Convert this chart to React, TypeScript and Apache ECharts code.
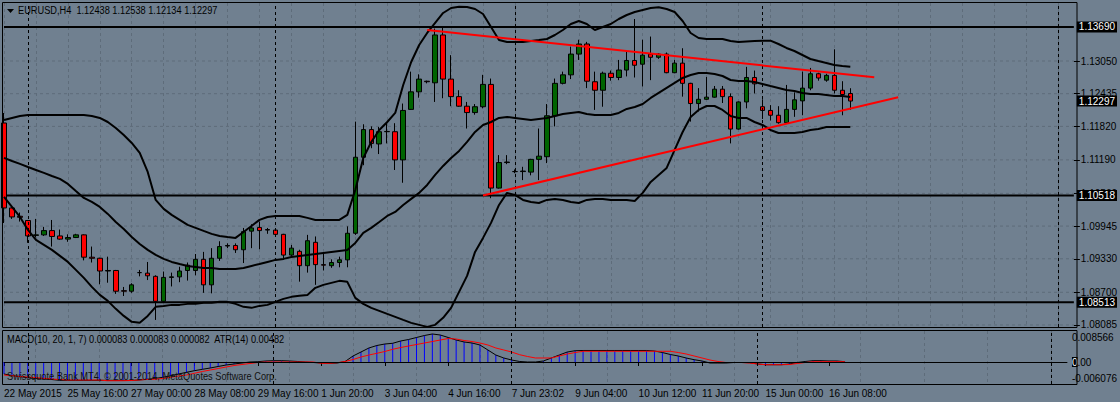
import React, { useEffect, useRef } from "react";
import * as echarts from "echarts";

const FONT = "Liberation Sans";
const BG = "#708090";
const GRID = "#5e6c7a";

// ---- data (EURUSD H4) ----
const opens = [1.11884,1.10286,1.1013,1.1005,1.0977,1.0978,1.0986,1.0976,1.097,1.0973,1.0978,1.0936,1.0934,1.091,1.0911,1.0873,1.0872,1.0907,1.0906,1.09,1.0853,1.0898,1.0899,1.0911,1.0911,1.0932,1.0884,1.0934,1.0957,1.0958,1.095,1.0985,1.0992,1.0988,1.0987,1.0979,1.094,1.0947,1.092,1.0964,1.0922,1.092,1.0926,1.0931,1.0981,1.1124,1.1176,1.1149,1.1172,1.1172,1.1119,1.1214,1.1247,1.1267,1.1264,1.1354,1.1271,1.1238,1.122,1.1208,1.1219,1.1261,1.1066,1.1114,1.1097,1.1097,1.1096,1.112,1.1125,1.1202,1.1263,1.1279,1.1318,1.1337,1.1266,1.125,1.1282,1.1274,1.1288,1.1306,1.1299,1.1318,1.1312,1.1318,1.1283,1.1301,1.1263,1.1225,1.1233,1.1237,1.1252,1.1238,1.1177,1.1228,1.1274,1.1219,1.1212,1.1203,1.1189,1.1214,1.123,1.1254,1.1281,1.1269,1.1278,1.125,1.12438];
const highs = [1.12072,1.103,1.102,1.1006,1.1008,1.0993,1.1006,1.0988,1.0979,1.098,1.0979,1.0956,1.0935,1.0937,1.0912,1.088,1.0887,1.0912,1.0927,1.0902,1.0909,1.0907,1.0918,1.0926,1.0942,1.0946,1.0953,1.0966,1.0962,1.0962,1.0991,1.0998,1.1003,1.0991,1.0988,1.098,1.0959,1.095,1.0978,1.0975,1.0945,1.0932,1.0937,1.0994,1.1191,1.1186,1.1182,1.1181,1.1188,1.1188,1.1225,1.1285,1.128,1.1268,1.1366,1.1367,1.1316,1.125,1.1228,1.1224,1.1279,1.1272,1.1128,1.1128,1.1101,1.1106,1.1121,1.1178,1.1224,1.1272,1.1285,1.1332,1.1345,1.1341,1.1285,1.1285,1.1287,1.1307,1.1323,1.1384,1.1345,1.1351,1.132,1.1321,1.1307,1.1329,1.1264,1.1254,1.1275,1.1258,1.1258,1.1244,1.1229,1.1294,1.1287,1.1233,1.1222,1.122,1.126,1.1246,1.1285,1.1292,1.1283,1.1281,1.1327,1.1267,1.12538];
const lows = [1.10003,1.1008,1.1003,1.0963,1.0973,1.0976,1.0956,1.0969,1.0965,1.0972,1.093,1.0926,1.0885,1.0888,1.0867,1.0863,1.0869,1.09,1.0893,1.0818,1.0852,1.0881,1.0889,1.0892,1.0902,1.0869,1.0868,1.0929,1.0953,1.0944,1.0925,1.0953,1.0951,1.098,1.0978,1.0931,1.0936,1.089,1.0907,1.0884,1.0911,1.0916,1.0917,1.0917,1.0978,1.1109,1.1141,1.113,1.115,1.11,1.1076,1.1213,1.1236,1.1263,1.1228,1.1235,1.122,1.1219,1.1178,1.1204,1.1216,1.1047,1.1065,1.1111,1.1094,1.1081,1.109,1.1081,1.1113,1.1182,1.1261,1.1271,1.1307,1.1254,1.1213,1.1219,1.1268,1.1269,1.1276,1.1274,1.1257,1.1269,1.1309,1.1282,1.1282,1.1238,1.1191,1.121,1.1232,1.1236,1.1226,1.115,1.1176,1.1216,1.1244,1.1196,1.1193,1.1187,1.1188,1.12,1.1203,1.125,1.1268,1.1266,1.1244,1.1203,1.12134];
const closes = [1.10286,1.10117,1.1011,1.0976,1.0978,1.0986,1.0975,1.097,1.0973,1.0978,1.0936,1.0934,1.091,1.0911,1.0872,1.0872,1.0884,1.0907,1.0901,1.0853,1.0898,1.0899,1.091,1.0921,1.0932,1.0884,1.0934,1.0956,1.0958,1.095,1.0984,1.0991,1.0986,1.0987,1.0979,1.094,1.0953,1.092,1.0967,1.0922,1.0921,1.0926,1.0931,1.0981,1.1124,1.1176,1.115,1.1172,1.11725,1.1119,1.1212,1.1247,1.1271,1.1266,1.1354,1.1271,1.1238,1.122,1.1208,1.1219,1.1261,1.1066,1.1114,1.1115,1.1097,1.1098,1.112,1.1126,1.1202,1.1263,1.1279,1.1318,1.1337,1.1267,1.125,1.1282,1.1274,1.1288,1.1306,1.1297,1.1316,1.1312,1.1318,1.1283,1.1301,1.1263,1.1225,1.1233,1.1237,1.1252,1.1238,1.1177,1.1228,1.1274,1.1262,1.1212,1.1203,1.1189,1.1214,1.1232,1.1254,1.1281,1.1273,1.1278,1.125,1.1242,1.12297];

const bbUpper = [1.11941,1.11979,1.12016,1.12035,1.12035,1.12035,1.12035,1.12035,1.12035,1.12035,1.12035,1.12016,1.11979,1.11903,1.11791,1.11659,1.11509,1.11321,1.10963,1.10437,1.10268,1.10155,1.10061,1.09967,1.09911,1.09854,1.09798,1.0976,1.09741,1.09723,1.09835,1.09948,1.10061,1.10117,1.10136,1.10136,1.10136,1.10136,1.10099,1.10061,1.10061,1.10061,1.10061,1.10155,1.10625,1.11227,1.11526,1.11753,1.11903,1.12073,1.12599,1.13031,1.13351,1.13577,1.13765,1.13953,1.14047,1.14071,1.14065,1.14028,1.13934,1.13689,1.13445,1.13407,1.13407,1.13407,1.13426,1.13445,1.13464,1.13539,1.13633,1.13746,1.13802,1.13746,1.13633,1.13689,1.13746,1.1384,1.13915,1.13971,1.14009,1.14047,1.1406,1.14028,1.13971,1.13802,1.13577,1.13483,1.13464,1.13464,1.13464,1.13426,1.13407,1.13417,1.13426,1.13432,1.13432,1.1337,1.13295,1.13238,1.13163,1.13088,1.1305,1.13013,1.12975,1.12956,1.12943];
const bbMiddle = [1.11227,1.1117,1.11114,1.11057,1.11001,1.10945,1.10888,1.10832,1.10738,1.10606,1.10475,1.10399,1.10305,1.10174,1.10023,1.09891,1.09741,1.09609,1.09497,1.09403,1.09328,1.09271,1.09233,1.09196,1.09177,1.09158,1.09158,1.09139,1.09139,1.09139,1.09158,1.09196,1.09233,1.09271,1.09309,1.09328,1.09365,1.09384,1.09403,1.09421,1.0944,1.09459,1.09478,1.09497,1.09629,1.09817,1.09911,1.10023,1.10136,1.10211,1.10343,1.10456,1.10569,1.10719,1.10907,1.11076,1.11227,1.11359,1.11528,1.11716,1.11847,1.11903,1.11979,1.11997,1.11979,1.1196,1.11941,1.1196,1.11979,1.12016,1.12054,1.12073,1.12092,1.12054,1.12035,1.12035,1.12035,1.12073,1.12148,1.12185,1.12242,1.12355,1.12449,1.12543,1.12637,1.12731,1.12787,1.12825,1.12825,1.12806,1.12768,1.12693,1.12674,1.12674,1.12655,1.12618,1.1258,1.12543,1.12505,1.12486,1.12449,1.1243,1.1243,1.12411,1.12392,1.12392,1.12373];
const bbLower = [1.10493,1.10305,1.10117,1.09873,1.09685,1.09591,1.09497,1.09384,1.09271,1.09121,1.08971,1.08802,1.08651,1.08538,1.08388,1.08256,1.08144,1.08125,1.08256,1.08426,1.08444,1.08463,1.08463,1.08482,1.08482,1.08501,1.08501,1.0852,1.0852,1.08482,1.08426,1.08407,1.08444,1.08463,1.0852,1.08576,1.08614,1.08633,1.08651,1.08783,1.08839,1.08877,1.08915,1.08896,1.08595,1.08482,1.08407,1.08351,1.08294,1.08238,1.08181,1.08125,1.08087,1.08049,1.08087,1.08219,1.08407,1.08708,1.09008,1.09459,1.09723,1.10005,1.10343,1.10569,1.10531,1.10437,1.10399,1.1038,1.10437,1.10456,1.10437,1.10399,1.1038,1.10437,1.10456,1.10456,1.10437,1.10437,1.10437,1.10418,1.10569,1.10775,1.10907,1.11039,1.11377,1.11715,1.11997,1.12129,1.12204,1.12204,1.12129,1.12016,1.11979,1.11979,1.11903,1.11847,1.11753,1.11697,1.11697,1.11697,1.11715,1.11753,1.11772,1.11809,1.11809,1.11809,1.11809];

const macdMain = [-0.00332,-0.00373,-0.00406,-0.00434,-0.00456,-0.0047,-0.00483,-0.00506,-0.00506,-0.00506,-0.00506,-0.00506,-0.00506,-0.00506,-0.00506,-0.00506,-0.00511,-0.00497,-0.00478,-0.00456,-0.00423,-0.00381,-0.00332,-0.00285,-0.0024,-0.00202,-0.00166,-0.00124,-0.00083,-0.00055,-0.00028,0,0.00008,0.00028,0.00036,0.00036,0.00028,0.00014,0,-0.00014,-0.00028,-0.00036,-0.00028,0.00014,0.00166,0.00276,0.00387,0.00456,0.00497,0.00517,0.0058,0.00622,0.00677,0.00732,0.00774,0.00746,0.00677,0.00608,0.00553,0.00525,0.0047,0.00332,0.00193,0.00111,0.00055,0.00014,0,0,0.00028,0.00111,0.00193,0.00276,0.00312,0.00318,0.00318,0.00318,0.00318,0.00318,0.00318,0.00318,0.00318,0.00318,0.00304,0.00262,0.00207,0.00166,0.00111,0.00064,0.00028,-0.00028,-0.00028,-0.00028,-0.00014,-0.00014,-0.00019,-0.00055,-0.00075,-0.00075,-0.00075,-0.00055,-0.00014,0.00014,0.00036,0.00036,0.00028,0.00028,0.000083];
const macdSignal = [-0.00359,-0.00381,-0.004,-0.00414,-0.00431,-0.0045,-0.0047,-0.00483,-0.00497,-0.00497,-0.00497,-0.00497,-0.00497,-0.00517,-0.00517,-0.00517,-0.00511,-0.00497,-0.00483,-0.00478,-0.00456,-0.00423,-0.00387,-0.00359,-0.00312,-0.00262,-0.00221,-0.0018,-0.00138,-0.00097,-0.00069,-0.00041,-0.00014,0,0,0,0,0,0,0,-0.00036,-0.00036,-0.00019,0.00014,0.00069,0.00138,0.00193,0.0024,0.0029,0.00351,0.004,0.00442,0.00483,0.00525,0.00566,0.00608,0.00649,0.00635,0.00594,0.00566,0.00525,0.0047,0.00387,0.00332,0.00276,0.00202,0.00152,0.00111,0.00111,0.00111,0.00166,0.00221,0.00262,0.00296,0.00296,0.00296,0.00296,0.00296,0.00296,0.00296,0.00296,0.00296,0.00296,0.00296,0.00296,0.00262,0.00221,0.00166,0.00111,0.00055,0.00014,-0.00014,-0.00014,-0.00014,-0.00028,-0.00055,-0.00075,-0.00075,-0.00075,-0.0007,-0.00041,-0.00014,0.00008,0.00008,0.00008,0.00008,0.000082];

const tickLabels = ["22 May 2015","25 May 16:00","27 May 00:00","28 May 08:00","29 May 16:00","1 Jun 20:00","3 Jun 04:00","4 Jun 16:00","7 Jun 23:02","9 Jun 04:00","10 Jun 12:00","11 Jun 20:00","15 Jun 00:00","16 Jun 08:00"];
const priceTicks = [1.1305,1.12435,1.1182,1.1119,1.1056,1.09945,1.0933,1.087,1.08085];
const levels = [1.1369,1.10518,1.08513];
const lastPrice = 1.12297;
const weekStarts = [3,34,64,95,132];
const upperTrend = [[53,1.13633],[109,1.12744]];
const lowerTrend = [[60,1.1052],[112,1.12368]];
const macdLabels = [["0.008566",0.00682],["0.00",0],["-0.006076",-0.0045]];
const TITLE = "EURUSD,H4  1.12438 1.12538 1.12134 1.12297";
const MACD_TITLE = "MACD(10, 20, 1, 7) 0.000083 0.000083 0.000082  ATR(14) 0.00482";
const FOOTER = "Swissquote Bank MT4, \u00a9 2001-2014, MetaQuotes Software Corp.";

const SLOTS = 135;

export default function App() {
  const ref = useRef<HTMLDivElement>(null);
  useEffect(() => {
    if (!ref.current) return;
    const chart = echarts.init(ref.current, null, { renderer: "svg" });
    const cats = Array.from({ length: SLOTS }, (_, i) => String(i));
    const candles = opens.map((o, i) => [o, closes[i], lows[i], highs[i]]);
    const ends = [0, SLOTS - 1];
    const hLine = (v: number, lineStyle: any, endLabel?: any) => ({
      type: "line", xAxisIndex: 0, yAxisIndex: 0, data: ends.map((x) => [x, v]),
      symbol: "none", silent: true, clip: false, lineStyle, z: 2,
      endLabel: endLabel
        ? { show: true, formatter: v.toFixed(5), backgroundColor: "#000", color: "#fff", fontFamily: FONT, fontSize: 10, padding: [1, 2, 0, 2], distance: 3 }
        : { show: false },
    });
    const weekLines = weekStarts.map((i) => ({
      xAxis: i,
      lineStyle: { color: "#000", type: [3, 3], width: 1 },
      label: { show: false },
    }));
    const txt = (x: number, y: number, text: string, fill = "#000") => ({
      type: "text", x, y, scaleX: 0.84, z: 100,
      style: { text, fill, font: `11px "${FONT}"` },
    });
    const option: any = {
      animation: false,
      backgroundColor: BG,
      textStyle: { fontFamily: FONT },
      grid: [
        { left: 4, top: 3, width: 1072, height: 324 },
        { left: 4, top: 331, width: 1072, height: 53 },
      ],
      xAxis: [
        {
          type: "category", gridIndex: 0, data: cats, boundaryGap: false,
          axisLine: { show: false }, axisTick: { show: false }, axisLabel: { show: false },
          splitLine: { show: true, interval: (i: number) => i % 4 === 0, lineStyle: { color: GRID, type: [3, 3], width: 1 } },
        },
        {
          type: "category", gridIndex: 1, data: cats, boundaryGap: false,
          axisLine: { show: true, lineStyle: { color: "#000", width: 1 } },
          axisTick: { show: true, interval: (i: number) => i % 8 === 0 && i / 8 < tickLabels.length, length: 4, lineStyle: { color: "#000" } },
          axisLabel: {
            show: true, interval: (i: number) => i % 8 === 0 && i / 8 < tickLabels.length,
            showMinLabel: true, hideOverlap: false,
            formatter: (_v: string, i: number) => tickLabels[i / 8] ?? "",
            align: "left", margin: 4, color: "#000", fontSize: 10, fontFamily: FONT,
          },
          splitLine: { show: true, interval: (i: number) => i % 8 === 4, lineStyle: { color: GRID, type: [3, 3], width: 1 } },
        },
      ],
      yAxis: [
        {
          type: "value", gridIndex: 0, position: "right", min: 1.08047, max: 1.14141,
          axisLine: { show: false },
          axisTick: { show: true, customValues: priceTicks, length: 6, lineStyle: { color: "#000" } },
          axisLabel: { customValues: priceTicks, formatter: (v: number) => v.toFixed(5), color: "#000", fontSize: 10, margin: 7, fontFamily: FONT },
          splitLine: { show: false },
        },
        {
          type: "value", gridIndex: 1, position: "right", min: -0.006076, max: 0.008566,
          axisLine: { show: false }, axisTick: { show: false },
          axisLabel: {
            customValues: macdLabels.map((m) => m[1]),
            formatter: (v: number) => {
              const m = macdLabels.find((x) => Math.abs((x[1] as number) - v) < 1e-7);
              const t = m ? (m[0] as string) : "";
              return t === "0.00" ? "{b|0}.00" : t;
            },
            rich: { b: { backgroundColor: "#000", color: "#fff", fontSize: 10, fontFamily: FONT } },
            color: "#000", fontSize: 10, margin: 5, fontFamily: FONT,
          },
          splitLine: { show: false },
        },
      ],
      series: [
        ...priceTicks.map((v) => hLine(v, { color: GRID, type: [3, 3], width: 1 })),
        {
          type: "candlestick", xAxisIndex: 0, yAxisIndex: 0, data: candles, barWidth: 5, clip: false, z: 3,
          itemStyle: { color: "#006400", color0: "#ff0000", borderColor: "#000", borderColor0: "#000", borderColorDoji: "#000", borderWidth: 1 },
        },
        ...levels.map((v) => hLine(v, { color: "#000", width: 2 }, true)),
        hLine(lastPrice, { color: "rgba(0,0,0,0)", width: 0 }, true),
        ...[bbUpper, bbMiddle, bbLower].map((d, k) => ({
          type: "line", xAxisIndex: 0, yAxisIndex: 0, data: d, symbol: "none", lineStyle: { color: "#000", width: 2 }, z: 4,
          markLine: k === 1 ? { silent: true, symbol: "none", animation: false, data: weekLines } : undefined,
        })),
        ...[upperTrend, lowerTrend].map((d) => ({
          type: "line", xAxisIndex: 0, yAxisIndex: 0, data: d, symbol: "none", lineStyle: { color: "#ff0000", width: 2 }, z: 5,
        })),
        {
          type: "bar", xAxisIndex: 1, yAxisIndex: 1, data: macdMain, barWidth: 1, itemStyle: { color: "#0000ff" },
          markLine: {
            silent: true, symbol: "none", animation: false,
            data: [{ yAxis: 0, lineStyle: { color: "#000", width: 1, type: "solid" }, label: { show: false } }, ...weekLines],
          },
        },
        { type: "line", xAxisIndex: 1, yAxisIndex: 1, data: macdMain, symbol: "none", lineStyle: { color: "#000", width: 1 } },
        { type: "line", xAxisIndex: 1, yAxisIndex: 1, data: macdSignal, symbol: "none", lineStyle: { color: "#ff0000", width: 1 } },
      ],
      graphic: [
        { type: "rect", shape: { x: 2.5, y: 2.5, width: 1074.5, height: 325 }, style: { fill: "none", stroke: "#000", lineWidth: 1 }, z: 100, silent: true },
        { type: "rect", shape: { x: 2.5, y: 330.5, width: 1074.5, height: 54 }, style: { fill: "none", stroke: "#000", lineWidth: 1 }, z: 100, silent: true },
        { type: "polygon", shape: { points: [[7, 9], [14, 9], [10.5, 13]] }, style: { fill: "#000" }, z: 100 },
        txt(18, 5, TITLE),
        txt(7, 334, MACD_TITLE),
        txt(7, 371, FOOTER, "#111"),
      ],
    };
    chart.setOption(option);
    return () => chart.dispose();
  }, []);
  return <div ref={ref} style={{ position: "fixed", left: 0, top: 0, width: 1120, height: 402 }} />;
}
